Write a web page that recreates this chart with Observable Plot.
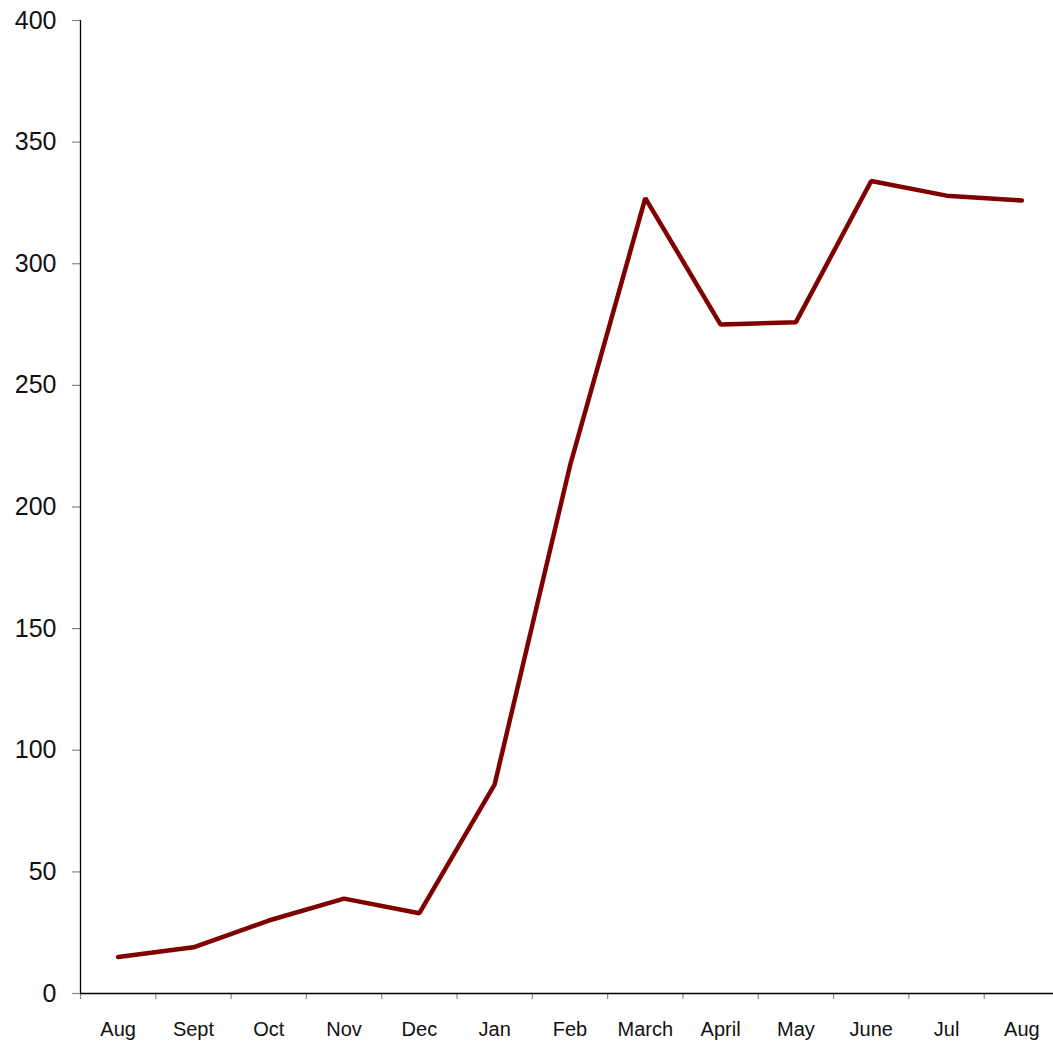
<!DOCTYPE html>
<html>
<head>
<meta charset="utf-8">
<script src="https://cdn.jsdelivr.net/npm/d3@7"></script>
<script src="https://cdn.jsdelivr.net/npm/@observablehq/plot@0.6"></script>
<style>
  html, body { margin: 0; padding: 0; background: #fff; }
  svg { display: block; }
</style>
</head>
<body>
<div id="chart"></div>
<script>
const months = ["Aug", "Sept", "Oct", "Nov", "Dec", "Jan", "Feb", "March", "April", "May", "June", "Jul", "Aug"];
const values = [15, 19, 30, 39, 33, 86, 217, 327, 275, 276, 334, 328, 326];
const yTicks = [0, 50, 100, 150, 200, 250, 300, 350, 400];

const data = months.map((m, i) => ({i, month: m, value: values[i]}));
const boundaries = d3.range(-0.5, months.length, 1);
const centers = d3.range(months.length);

const chart = Plot.plot({
  width: 1053,
  height: 1042,
  marginTop: 20,
  marginLeft: 80,
  marginRight: 0,
  marginBottom: 49,
  style: {fontFamily: "'Liberation Sans', Arial, Helvetica, sans-serif", background: "#fff"},
  x: {domain: [-0.5, months.length - 0.5], range: [80, 1059], axis: null},
  y: {domain: [0, 400], axis: null},
  marks: [
    Plot.axisX({ticks: boundaries, tickFormat: () => "", tickSize: 6, stroke: "#888", strokeWidth: 1.2, label: null}),
    Plot.axisX({ticks: centers, tickFormat: i => months[i], tickSize: 0, tickPadding: 28, fontSize: 20, fill: "#111", label: null}),
    Plot.axisY({ticks: yTicks, tickSize: 8, tickPadding: 16, fontSize: 25, fill: "#111", stroke: "#888", strokeWidth: 1.2, label: null}),
    Plot.ruleX([-0.5], {stroke: "#000", strokeWidth: 1.3}),
    Plot.ruleY([0], {stroke: "#000", strokeWidth: 1.3}),
    Plot.line(data, {x: "i", y: "value", stroke: "#800000", strokeWidth: 4.5, strokeLinejoin: "miter", strokeLinecap: "round"})
  ]
});
document.getElementById("chart").appendChild(chart);
</script>
</body>
</html>
